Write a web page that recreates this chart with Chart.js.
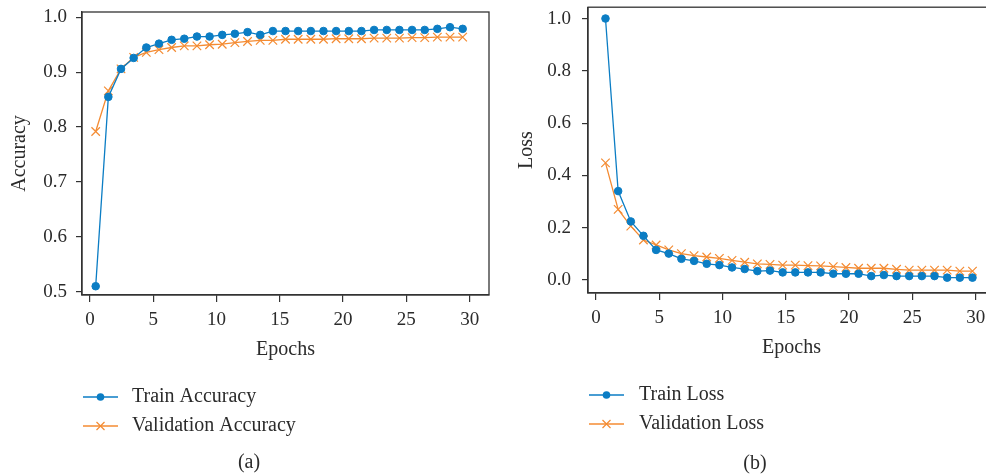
<!DOCTYPE html>
<html><head><meta charset="utf-8">
<script src="https://cdn.jsdelivr.net/npm/chart.js@4.4.0/dist/chart.umd.min.js"></script>
<style>
html,body{margin:0;padding:0;background:#fff;overflow:hidden;width:986px;height:474px;}
#wrapA{position:absolute;left:0;top:0;width:500px;height:474px;}
#wrapB{position:absolute;left:500px;top:0;width:510px;height:474px;}
canvas{display:block;}
</style></head><body>
<div id="wrapA"><canvas id="accChart"></canvas></div>
<div id="wrapB"><canvas id="lossChart"></canvas></div>
<script>
// ---- data ----
const accEpochs = [0.45,1.45,2.45,3.45,4.45,5.45,6.45,7.45,8.45,9.45,10.45,11.45,12.45,13.45,14.45,15.45,16.45,17.45,18.45,19.45,20.45,21.45,22.45,23.45,24.45,25.45,26.45,27.45,28.45,29.45];
const trainAcc = [0.510,0.855,0.906,0.926,0.945,0.952,0.959,0.961,0.965,0.965,0.968,0.970,0.973,0.968,0.975,0.975,0.975,0.975,0.975,0.975,0.975,0.975,0.977,0.977,0.977,0.977,0.977,0.979,0.982,0.979];
const valAcc = [0.792,0.866,0.906,0.927,0.936,0.941,0.945,0.948,0.948,0.950,0.951,0.954,0.956,0.958,0.958,0.960,0.960,0.960,0.960,0.961,0.961,0.961,0.962,0.962,0.962,0.963,0.963,0.964,0.964,0.964];

const lossEpochs = [0.75,1.75,2.75,3.75,4.75,5.75,6.75,7.75,8.75,9.75,10.75,11.75,12.75,13.75,14.75,15.75,16.75,17.75,18.75,19.75,20.75,21.75,22.75,23.75,24.75,25.75,26.75,27.75,28.75,29.75];
const trainLoss = [1.000,0.340,0.224,0.169,0.115,0.101,0.081,0.073,0.062,0.057,0.048,0.042,0.034,0.036,0.029,0.029,0.029,0.029,0.024,0.024,0.024,0.015,0.019,0.015,0.015,0.015,0.015,0.009,0.009,0.009];
const valLoss = [0.448,0.270,0.206,0.153,0.134,0.115,0.101,0.093,0.088,0.083,0.075,0.068,0.062,0.060,0.057,0.057,0.055,0.054,0.051,0.048,0.045,0.045,0.045,0.041,0.038,0.038,0.038,0.038,0.034,0.034];

const xTicks = [0,5,10,15,20,25,30];
const accTicks = [0.5,0.6,0.7,0.8,0.9,1.0];
const lossTicks = [0.0,0.2,0.4,0.6,0.8,1.0];

const BLUE = '#0b7dc4';
const ORANGE = '#f48b32';
const INK = '#2b2b2b';
const SERIF = "'Liberation Serif', 'Times New Roman', serif";

function pts(xs, ys){ return xs.map((x,i)=>({x:x, y:ys[i]})); }

const frameAndLegend = {
  id: 'frameAndLegend',
  beforeDatasetsDraw(chart) {
    const {ctx, chartArea: a} = chart;
    ctx.save();
    ctx.strokeStyle = '#333'; ctx.lineWidth = 1.3;
    ctx.strokeRect(a.left, a.top, a.right - a.left, a.bottom - a.top);
    ctx.restore();
  },
  afterDraw(chart, args, o) {
    const ctx = chart.ctx;
    ctx.save();
    ctx.font = o.font;
    ctx.textBaseline = 'middle';
    chart.data.datasets.forEach((ds, i) => {
      const y = o.y0 + i * o.dy;
      const cx = o.x0 + o.w / 2;
      ctx.strokeStyle = ds.borderColor;
      ctx.fillStyle = ds.borderColor;
      ctx.lineWidth = 1.6;
      ctx.beginPath(); ctx.moveTo(o.x0, y); ctx.lineTo(o.x0 + o.w, y); ctx.stroke();
      ctx.lineWidth = 1.2;
      if (ds.pointStyle === 'circle') {
        ctx.beginPath(); ctx.arc(cx, y, 3.8, 0, Math.PI * 2); ctx.fill();
      } else {
        const r = 4;
        ctx.beginPath();
        ctx.moveTo(cx - r, y - r); ctx.lineTo(cx + r, y + r);
        ctx.moveTo(cx + r, y - r); ctx.lineTo(cx - r, y + r);
        ctx.stroke();
      }
      ctx.fillStyle = INK; ctx.textAlign = 'left';
      ctx.fillText(ds.label, o.tx, y);
    });
    ctx.textAlign = 'center';
    ctx.fillStyle = INK;
    ctx.fillText(o.caption, o.cx, o.cy);
    ctx.restore();
  }
};

function makeChart(id, cfg) {
  const trainDs = {
    label: cfg.trainLabel, data: pts(cfg.xs, cfg.train),
    borderColor: BLUE, backgroundColor: BLUE, borderWidth: 1.3,
    pointStyle: 'circle', pointRadius: 3.8, pointBorderWidth: 1, pointHoverRadius: 3.8,
    tension: 0
  };
  const valDs = {
    label: cfg.valLabel, data: pts(cfg.xs, cfg.val),
    borderColor: ORANGE, backgroundColor: ORANGE, borderWidth: 1.3,
    pointStyle: 'crossRot', pointRadius: 6, pointBorderWidth: 1.2, pointHoverRadius: 6,
    tension: 0
  };
  return new Chart(document.getElementById(id), {
    type: 'line',
    data: { datasets: [trainDs, valDs] },
    plugins: [frameAndLegend],
    options: {
      responsive: true, maintainAspectRatio: false, animation: false,
      events: [],
      layout: { padding: cfg.padding },
      plugins: {
        legend: { display: false }, tooltip: { enabled: false },
        frameAndLegend: cfg.legend
      },
      scales: {
        x: {
          type: 'linear', min: -0.632, max: 31.53,
          afterBuildTicks: s => { s.ticks = xTicks.map(v => ({value: v})); },
          afterFit: s => { s.height = 75; s.paddingLeft = 0; s.paddingRight = 0; },
          ticks: { color: INK, padding: 7, font: { family: SERIF, size: 19 }, callback: v => String(v) },
          grid: { drawOnChartArea: false, drawTicks: true, tickLength: 7, color: '#333', lineWidth: 1.2 },
          border: { color: '#333', width: 1.3 },
          title: { display: true, text: 'Epochs', color: INK, font: { family: SERIF, size: 20 }, padding: { top: 0, bottom: 8 } }
        },
        y: {
          type: 'linear', min: cfg.ymin, max: cfg.ymax,
          afterBuildTicks: s => { s.ticks = cfg.yTicks.map(v => ({value: v})); },
          afterFit: s => { s.width = cfg.yWidth; s.paddingTop = 0; s.paddingBottom = 0; },
          ticks: { color: INK, padding: cfg.yPad, font: { family: SERIF, size: 19 }, callback: v => Number(v).toFixed(1) },
          grid: { drawOnChartArea: false, drawTicks: true, tickLength: 6, color: '#333', lineWidth: 1.2 },
          border: { color: '#333', width: 1.3 },
          title: { display: true, text: cfg.yTitle, color: INK, font: { family: SERIF, size: 20 }, padding: { top: cfg.yTitlePad, bottom: 0 } }
        }
      }
    }
  });
}

makeChart('accChart', {
  xs: accEpochs, train: trainAcc, val: valAcc,
  trainLabel: 'Train Accuracy', valLabel: 'Validation Accuracy',
  yTicks: accTicks, ymin: 0.494, ymax: 1.0097, yTitle: 'Accuracy',
  yWidth: 82, yPad: 9, yTitlePad: 8,
  padding: { left: 0, top: 12, right: 11, bottom: 104 },
  legend: { font: "20px " + SERIF, x0: 83, w: 35, tx: 132, y0: 397, dy: 29, caption: '(a)', cx: 249, cy: 463 }
});

makeChart('lossChart', {
  xs: lossEpochs, train: trainLoss, val: valLoss,
  trainLabel: 'Train Loss', valLabel: 'Validation Loss',
  yTicks: lossTicks, ymin: -0.0497, ymax: 1.0433, yTitle: 'Loss',
  yWidth: 88, yPad: 11, yTitlePad: 15,
  padding: { left: 0, top: 7, right: 15, bottom: 106 },
  legend: { font: "20px " + SERIF, x0: 89, w: 35, tx: 139, y0: 395, dy: 29, caption: '(b)', cx: 255, cy: 464 }
});
</script>
</body></html>
